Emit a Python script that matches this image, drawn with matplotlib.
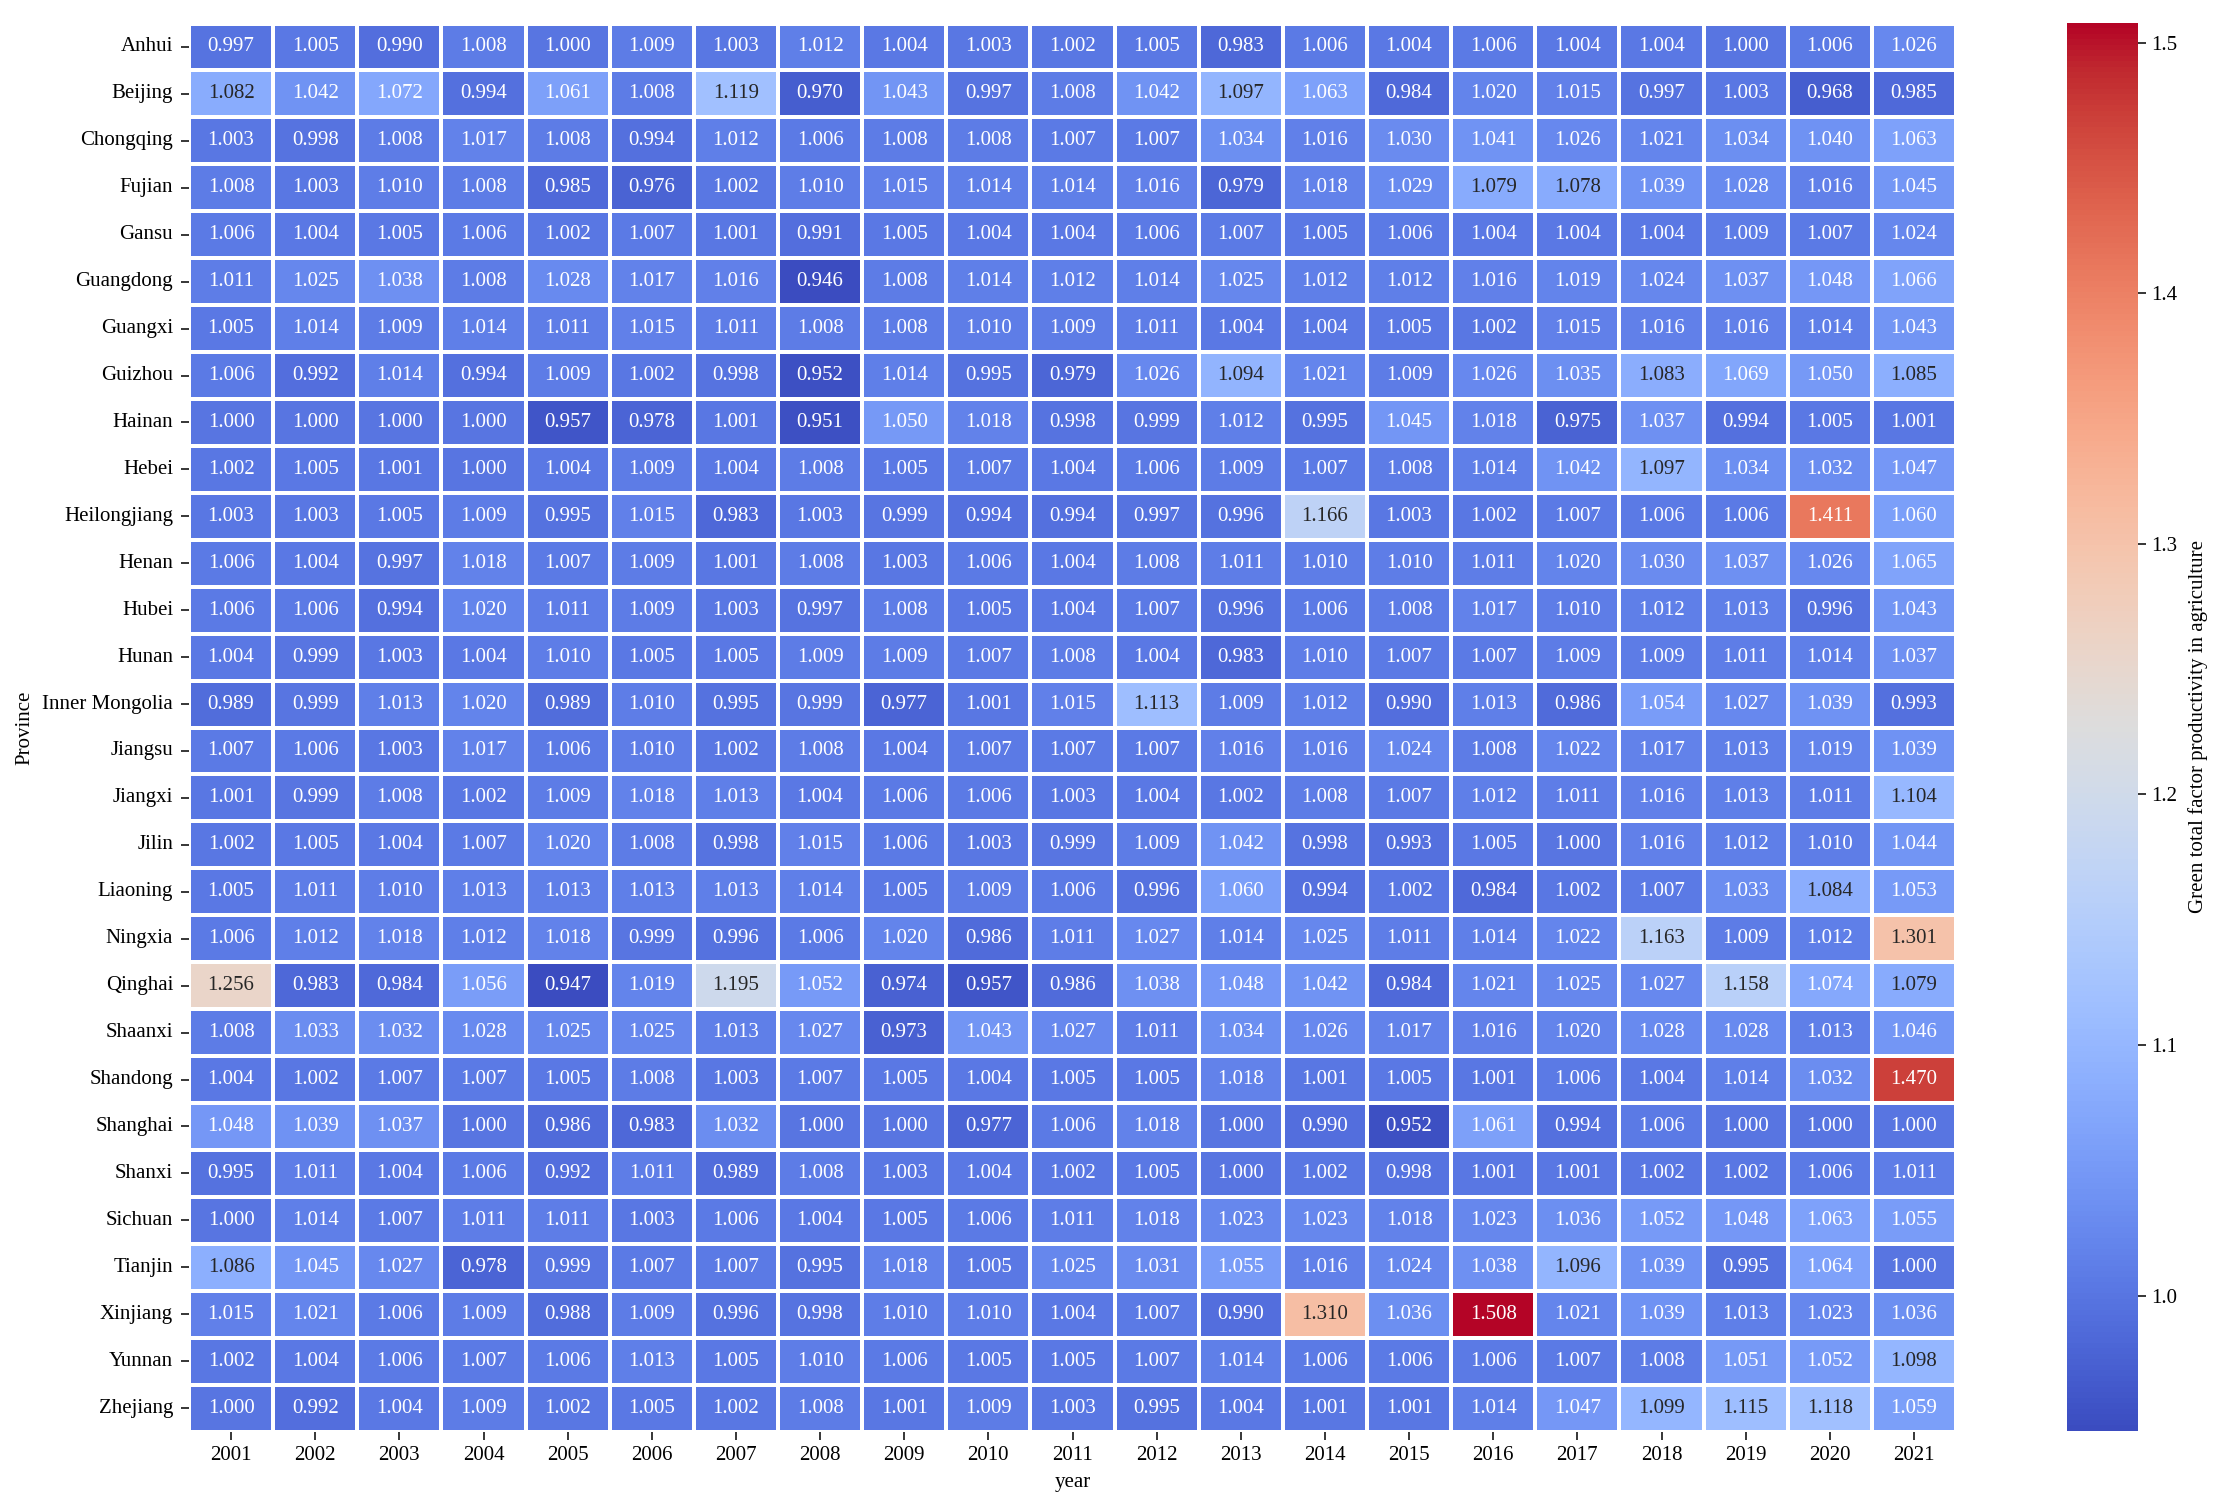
import numpy as np
import pandas as pd
import matplotlib
matplotlib.use("Agg")
import matplotlib.pyplot as plt
import seaborn as sns

plt.rcParams['font.family'] = ['Liberation Serif', 'DejaVu Serif']

years = list(range(2001, 2022))
Anhui = [0.997,1.005,0.990,1.008,1.000,1.009,1.003,1.012,1.004,1.003,1.002,1.005,0.983,1.006,1.004,1.006,1.004,1.004,1.000,1.006,1.026]
Beijing = [1.082,1.042,1.072,0.994,1.061,1.008,1.119,0.970,1.043,0.997,1.008,1.042,1.097,1.063,0.984,1.020,1.015,0.997,1.003,0.968,0.985]
Chongqing = [1.003,0.998,1.008,1.017,1.008,0.994,1.012,1.006,1.008,1.008,1.007,1.007,1.034,1.016,1.030,1.041,1.026,1.021,1.034,1.040,1.063]
Fujian = [1.008,1.003,1.010,1.008,0.985,0.976,1.002,1.010,1.015,1.014,1.014,1.016,0.979,1.018,1.029,1.079,1.078,1.039,1.028,1.016,1.045]
Gansu = [1.006,1.004,1.005,1.006,1.002,1.007,1.001,0.991,1.005,1.004,1.004,1.006,1.007,1.005,1.006,1.004,1.004,1.004,1.009,1.007,1.024]
Guangdong = [1.011,1.025,1.038,1.008,1.028,1.017,1.016,0.946,1.008,1.014,1.012,1.014,1.025,1.012,1.012,1.016,1.019,1.024,1.037,1.048,1.066]
Guangxi = [1.005,1.014,1.009,1.014,1.011,1.015,1.011,1.008,1.008,1.010,1.009,1.011,1.004,1.004,1.005,1.002,1.015,1.016,1.016,1.014,1.043]
Guizhou = [1.006,0.992,1.014,0.994,1.009,1.002,0.998,0.952,1.014,0.995,0.979,1.026,1.094,1.021,1.009,1.026,1.035,1.083,1.069,1.050,1.085]
Hainan = [1.000,1.000,1.000,1.000,0.957,0.978,1.001,0.951,1.050,1.018,0.998,0.999,1.012,0.995,1.045,1.018,0.975,1.037,0.994,1.005,1.001]
Hebei = [1.002,1.005,1.001,1.000,1.004,1.009,1.004,1.008,1.005,1.007,1.004,1.006,1.009,1.007,1.008,1.014,1.042,1.097,1.034,1.032,1.047]
Heilongjiang = [1.003,1.003,1.005,1.009,0.995,1.015,0.983,1.003,0.999,0.994,0.994,0.997,0.996,1.166,1.003,1.002,1.007,1.006,1.006,1.411,1.060]
Henan = [1.006,1.004,0.997,1.018,1.007,1.009,1.001,1.008,1.003,1.006,1.004,1.008,1.011,1.010,1.010,1.011,1.020,1.030,1.037,1.026,1.065]
Hubei = [1.006,1.006,0.994,1.020,1.011,1.009,1.003,0.997,1.008,1.005,1.004,1.007,0.996,1.006,1.008,1.017,1.010,1.012,1.013,0.996,1.043]
Hunan = [1.004,0.999,1.003,1.004,1.010,1.005,1.005,1.009,1.009,1.007,1.008,1.004,0.983,1.010,1.007,1.007,1.009,1.009,1.011,1.014,1.037]
InnerMongolia = [0.989,0.999,1.013,1.020,0.989,1.010,0.995,0.999,0.977,1.001,1.015,1.113,1.009,1.012,0.990,1.013,0.986,1.054,1.027,1.039,0.993]
Jiangsu = [1.007,1.006,1.003,1.017,1.006,1.010,1.002,1.008,1.004,1.007,1.007,1.007,1.016,1.016,1.024,1.008,1.022,1.017,1.013,1.019,1.039]
Jiangxi = [1.001,0.999,1.008,1.002,1.009,1.018,1.013,1.004,1.006,1.006,1.003,1.004,1.002,1.008,1.007,1.012,1.011,1.016,1.013,1.011,1.104]
Jilin = [1.002,1.005,1.004,1.007,1.020,1.008,0.998,1.015,1.006,1.003,0.999,1.009,1.042,0.998,0.993,1.005,1.000,1.016,1.012,1.010,1.044]
Liaoning = [1.005,1.011,1.010,1.013,1.013,1.013,1.013,1.014,1.005,1.009,1.006,0.996,1.060,0.994,1.002,0.984,1.002,1.007,1.033,1.084,1.053]
Ningxia = [1.006,1.012,1.018,1.012,1.018,0.999,0.996,1.006,1.020,0.986,1.011,1.027,1.014,1.025,1.011,1.014,1.022,1.163,1.009,1.012,1.301]
Qinghai = [1.256,0.983,0.984,1.056,0.947,1.019,1.195,1.052,0.974,0.957,0.986,1.038,1.048,1.042,0.984,1.021,1.025,1.027,1.158,1.074,1.079]
Shaanxi = [1.008,1.033,1.032,1.028,1.025,1.025,1.013,1.027,0.973,1.043,1.027,1.011,1.034,1.026,1.017,1.016,1.020,1.028,1.028,1.013,1.046]
Shandong = [1.004,1.002,1.007,1.007,1.005,1.008,1.003,1.007,1.005,1.004,1.005,1.005,1.018,1.001,1.005,1.001,1.006,1.004,1.014,1.032,1.470]
Shanghai = [1.048,1.039,1.037,1.000,0.986,0.983,1.032,1.000,1.000,0.977,1.006,1.018,1.000,0.990,0.952,1.061,0.994,1.006,1.000,1.000,1.000]
Shanxi = [0.995,1.011,1.004,1.006,0.992,1.011,0.989,1.008,1.003,1.004,1.002,1.005,1.000,1.002,0.998,1.001,1.001,1.002,1.002,1.006,1.011]
Sichuan = [1.000,1.014,1.007,1.011,1.011,1.003,1.006,1.004,1.005,1.006,1.011,1.018,1.023,1.023,1.018,1.023,1.036,1.052,1.048,1.063,1.055]
Tianjin = [1.086,1.045,1.027,0.978,0.999,1.007,1.007,0.995,1.018,1.005,1.025,1.031,1.055,1.016,1.024,1.038,1.096,1.039,0.995,1.064,1.000]
Xinjiang = [1.015,1.021,1.006,1.009,0.988,1.009,0.996,0.998,1.010,1.010,1.004,1.007,0.990,1.310,1.036,1.508,1.021,1.039,1.013,1.023,1.036]
Yunnan = [1.002,1.004,1.006,1.007,1.006,1.013,1.005,1.010,1.006,1.005,1.005,1.007,1.014,1.006,1.006,1.006,1.007,1.008,1.051,1.052,1.098]
Zhejiang = [1.000,0.992,1.004,1.009,1.002,1.005,1.002,1.008,1.001,1.009,1.003,0.995,1.004,1.001,1.001,1.014,1.047,1.099,1.115,1.118,1.059]

provinces = ["Anhui","Beijing","Chongqing","Fujian","Gansu","Guangdong","Guangxi","Guizhou","Hainan","Hebei",
             "Heilongjiang","Henan","Hubei","Hunan","Inner Mongolia","Jiangsu","Jiangxi","Jilin","Liaoning","Ningxia",
             "Qinghai","Shaanxi","Shandong","Shanghai","Shanxi","Sichuan","Tianjin","Xinjiang","Yunnan","Zhejiang"]
rows = [Anhui,Beijing,Chongqing,Fujian,Gansu,Guangdong,Guangxi,Guizhou,Hainan,Hebei,
        Heilongjiang,Henan,Hubei,Hunan,InnerMongolia,Jiangsu,Jiangxi,Jilin,Liaoning,Ningxia,
        Qinghai,Shaanxi,Shandong,Shanghai,Shanxi,Sichuan,Tianjin,Xinjiang,Yunnan,Zhejiang]
df = pd.DataFrame(rows, index=provinces, columns=years)

W, H = 2224, 1504
fig = plt.figure(figsize=(W/100, H/100), dpi=100)
def box(l, t, r, b):
    return [l/W, 1-b/H, (r-l)/W, (b-t)/H]
ax = fig.add_axes(box(189, 23.5, 1956, 1431.5))
cax = fig.add_axes(box(2067, 22.5, 2138, 1431))

FS = 15
sns.heatmap(df, ax=ax, cbar_ax=cax, cmap="coolwarm", annot=True, fmt=".3f",
            annot_kws={"size": FS}, linewidths=1.6, linecolor="white")
ax.tick_params(axis='both', labelsize=FS, length=5.5, width=1.1)
ax.tick_params(axis='y', rotation=0, pad=6)
ax.tick_params(axis='x', rotation=0, pad=5)
ax.set_xlabel("year", fontsize=FS, labelpad=6)
ax.set_ylabel("Province", fontsize=FS, labelpad=6)

cax.set_yticks([1.0, 1.1, 1.2, 1.3, 1.4, 1.5])
cax.set_yticklabels(["1.0", "1.1", "1.2", "1.3", "1.4", "1.5"])
cax.tick_params(labelsize=FS, length=5.5, width=1.1, pad=4)
cax.set_ylabel("Green total factor productivity in agriculture", fontsize=FS, labelpad=8)

fig.savefig("out.png", dpi=100, facecolor="white")
